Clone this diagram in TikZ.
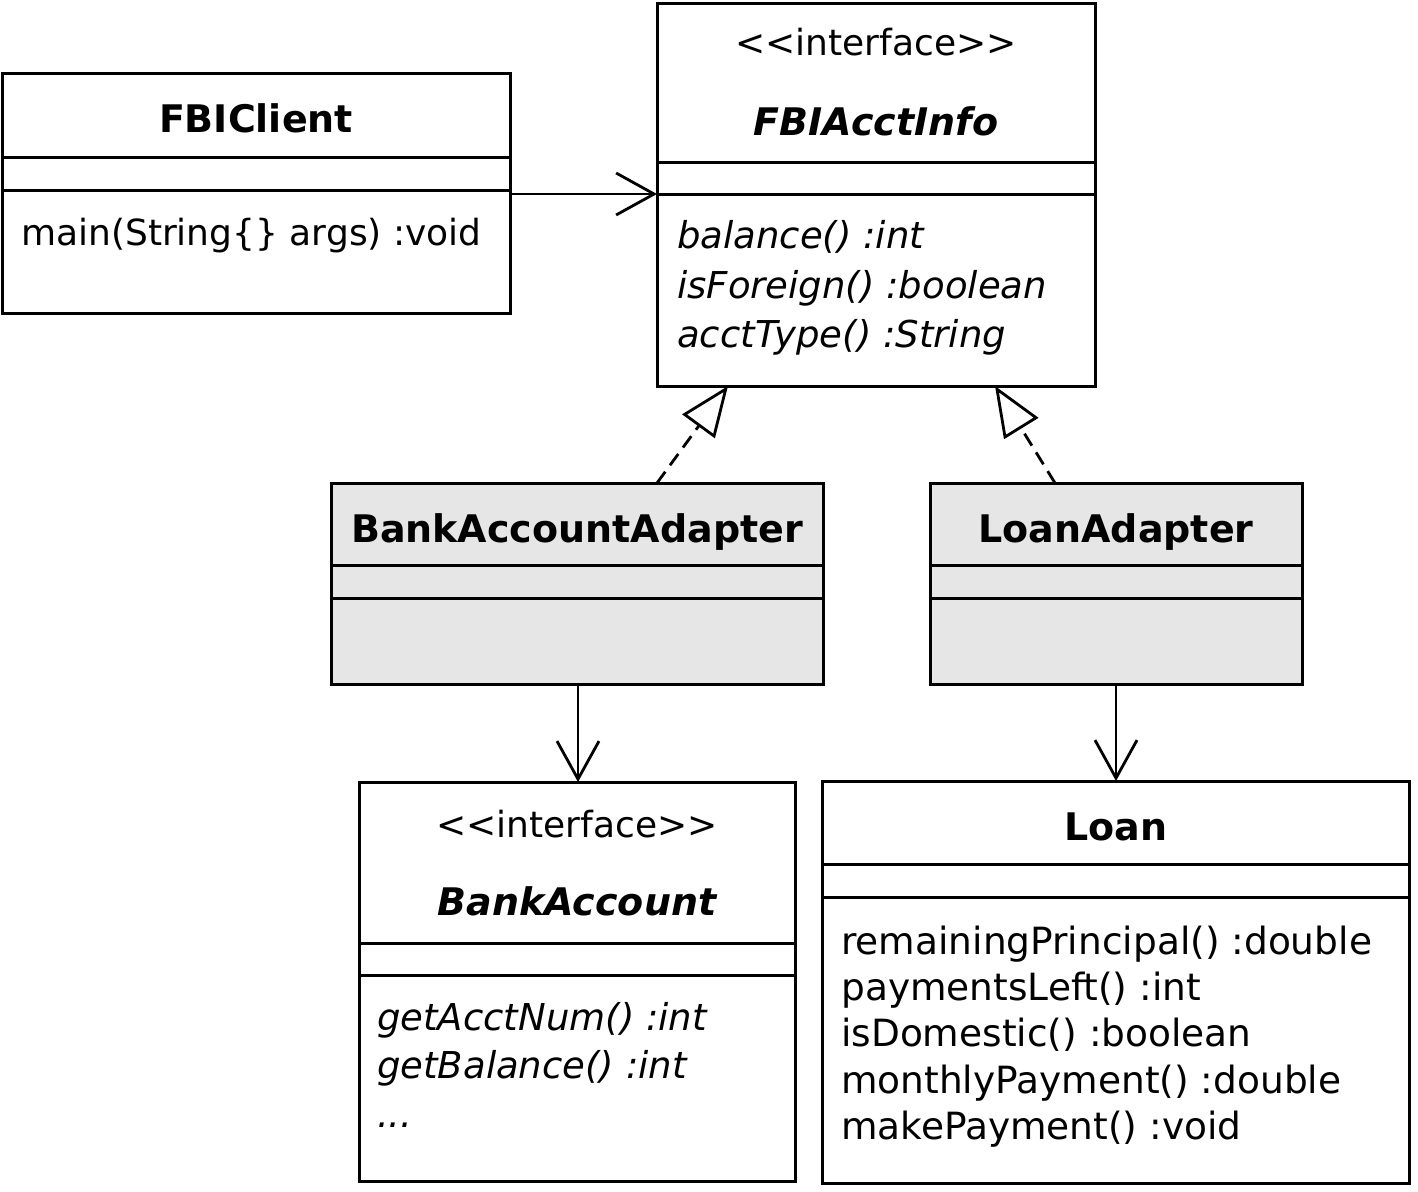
\documentclass[tikz,border=0pt]{standalone}
\usepackage{fontspec}
\setmainfont{DejaVu Sans}
\usetikzlibrary{arrows.meta}
\definecolor{boxgray}{HTML}{E6E6E6}
\begin{document}
\begin{tikzpicture}[x=1pt,y=-1pt,
  box/.style={draw, line width=3pt, anchor=north west, inner sep=0pt, outer sep=0pt},
  gbox/.style={box, fill=boxgray},
  divline/.style={line width=3pt},
  ttl/.style={font=\fontsize{38}{44}\bfseries\selectfont, anchor=base, inner sep=0pt},
  ittl/.style={font=\fontsize{38}{44}\bfseries\itshape\selectfont, anchor=base, inner sep=0pt},
  stereo/.style={font=\fontsize{36}{42}\selectfont, anchor=base, inner sep=0pt},
  meth/.style={font=\fontsize{36}{42}\selectfont, anchor=base west, inner sep=0pt},
  lmeth/.style={font=\fontsize{37.5}{42}\selectfont, anchor=base west, inner sep=0pt},
  imeth/.style={font=\fontsize{37}{42}\itshape\selectfont, anchor=base west, inner sep=0pt},
  assoc/.style={line width=2.8pt, -{Straight Barb[length=38pt, width=42pt, line width=2.8pt]}},
  realize/.style={line width=2.8pt, dash pattern=on 14pt off 8pt,
    -{Triangle[open, length=50pt, width=40pt, line width=2.8pt, fill=white]}}
]
\useasboundingbox (0,0) rectangle (1418,1191);

% FBIClient
\node[box, minimum width=508pt, minimum height=240pt] (fc) at (2,73) {};
\draw[divline] ([yshift=-84pt]fc.north west) -- ([yshift=-84pt]fc.north east);
\draw[divline] ([yshift=-117pt]fc.north west) -- ([yshift=-117pt]fc.north east);
\node[ttl] (fct) at (256,132) {FBIClient};
\node[meth] (fcm) at (21,245) {main(String\{\} args) :void};

% FBIAcctInfo
\node[box, minimum width=438pt, minimum height=383pt] (fai) at (657,3) {};
\draw[divline] ([yshift=-159pt]fai.north west) -- ([yshift=-159pt]fai.north east);
\draw[divline] ([yshift=-191pt]fai.north west) -- ([yshift=-191pt]fai.north east);
\node[stereo] (fais) at (876,55) {<{}<interface>{}>};
\node[ittl] (fait) at (876,135) {FBIAcctInfo};
\node[imeth] (faim1) at (677,248) {balance() :int};
\node[imeth] (faim2) at (677,298) {isForeign() :boolean};
\node[imeth] (faim3) at (677,347) {acctType() :String};

% BankAccountAdapter
\node[gbox, minimum width=492pt, minimum height=201pt] (baa) at (331,483) {};
\draw[divline] ([yshift=-82pt]baa.north west) -- ([yshift=-82pt]baa.north east);
\draw[divline] ([yshift=-115pt]baa.north west) -- ([yshift=-115pt]baa.north east);
\node[ttl] (baat) at (577,542) {BankAccountAdapter};

% LoanAdapter
\node[gbox, minimum width=372pt, minimum height=201pt] (la) at (930,483) {};
\draw[divline] ([yshift=-82pt]la.north west) -- ([yshift=-82pt]la.north east);
\draw[divline] ([yshift=-115pt]la.north west) -- ([yshift=-115pt]la.north east);
\node[ttl] (lat) at (1116,542) {LoanAdapter};

% BankAccount
\node[box, minimum width=436pt, minimum height=399pt] (ba) at (359,782) {};
\draw[divline] ([yshift=-161pt]ba.north west) -- ([yshift=-161pt]ba.north east);
\draw[divline] ([yshift=-193pt]ba.north west) -- ([yshift=-193pt]ba.north east);
\node[stereo] (bas) at (577,837) {<{}<interface>{}>};
\node[ittl] (bat) at (577,915) {BankAccount};
\node[imeth] (bam1) at (377,1030) {getAcctNum() :int};
\node[imeth] (bam2) at (377,1078) {getBalance() :int};
\node[imeth] (bam3) at (377,1127) {...};

% Loan
\node[box, minimum width=587pt, minimum height=402pt] (loan) at (822,781) {};
\draw[divline] ([yshift=-83pt]loan.north west) -- ([yshift=-83pt]loan.north east);
\draw[divline] ([yshift=-116pt]loan.north west) -- ([yshift=-116pt]loan.north east);
\node[ttl] (loant) at (1116,840) {Loan};
\node[lmeth] (lm1) at (841,954) {remainingPrincipal() :double};
\node[lmeth] (lm2) at (841,1000) {paymentsLeft() :int};
\node[lmeth] (lm3) at (841,1046) {isDomestic() :boolean};
\node[lmeth] (lm4) at (841,1093) {monthlyPayment() :double};
\node[lmeth] (lm5) at (841,1139) {makePayment() :void};

% connectors
\draw[assoc] ([yshift=-121pt]fc.north east) -- ([yshift=-191pt]fai.north west);
\draw[assoc] ([xshift=247pt]baa.south west) -- ([xshift=219pt]ba.north west);
\draw[assoc] ([xshift=186pt]la.south west) -- ([xshift=294pt]loan.north west);
\draw[realize] ([xshift=326pt]baa.north west) -- ([xshift=71pt]fai.south west);
\draw[realize] ([xshift=125pt]la.north west) -- ([xshift=338pt]fai.south west);
\end{tikzpicture}
\end{document}
